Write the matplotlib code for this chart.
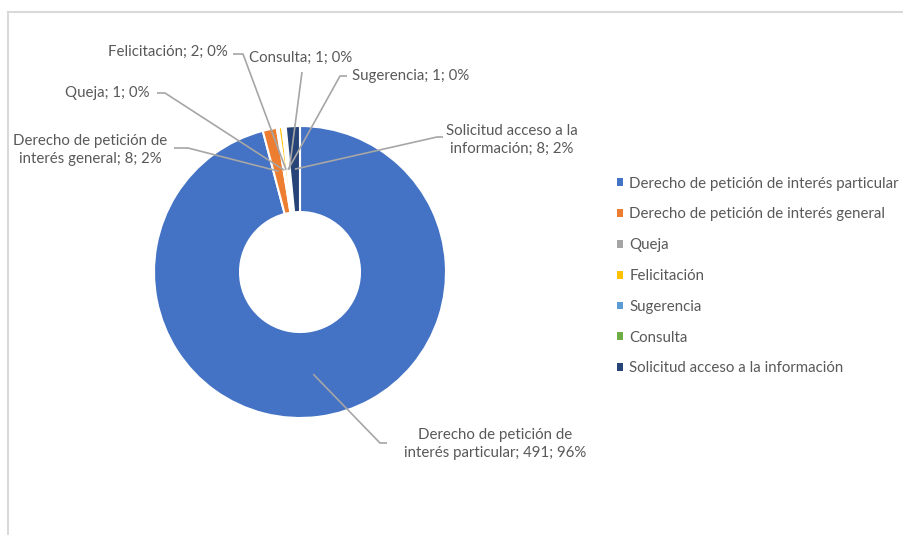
import matplotlib
matplotlib.use("Agg")
import matplotlib.pyplot as plt
import numpy as np

# datos
categorias = ["Derecho de petición de interés particular",
              "Derecho de petición de interés general",
              "Queja",
              "Felicitación",
              "Sugerencia",
              "Consulta",
              "Solicitud acceso a la información"]
valores = [491, 8, 1, 2, 1, 1, 8]
colores = ["#4472C4", "#ED7D31", "#A5A5A5", "#FFC000", "#5B9BD5", "#70AD47", "#264478"]
etiquetas = ["Derecho de petición de\ninterés particular; 491; 96%",
             "Derecho de petición de\ninterés general; 8; 2%",
             "Queja; 1; 0%",
             "Felicitación; 2; 0%",
             "Sugerencia; 1; 0%",
             "Consulta; 1; 0%",
             "Solicitud acceso a la\ninformación; 8; 2%"]

W, H = 904, 535
plt.rcParams['font.family'] = ['Lato', 'DejaVu Sans']
gris = "#595959"
linea = "#A6A6A6"
fs = 10.8

fig = plt.figure(figsize=(W / 100, H / 100), dpi=100)
ax = fig.add_axes([0, 0, 1, 1])

def py(y):
    return H - y

cx, cy = 300, py(272)
R = 146
ancho = 86

wedges, _ = ax.pie(valores, colors=colores, startangle=90, counterclock=False,
                   center=(cx, cy), radius=R,
                   wedgeprops=dict(width=ancho, edgecolor='white', linewidth=1.5))
ax.set_xlim(0, W)
ax.set_ylim(0, H)
ax.set_aspect('equal')
ax.axis('off')

# posiciones de las etiquetas: (x, y, ha, codo1, codo2)
pos = [
    (495, 444, 'center', (387, 443), (380, 443)),
    (90, 150, 'center', (174, 148), (188, 148)),
    (150, 93, 'right', (157, 93), (165, 93)),
    (228, 52, 'right', (233, 54), (243, 54)),
    (352, 76, 'left', (347, 76), (340, 76)),
    (301, 58, 'center', (302, 72), (302, 72)),
    (512, 140, 'center', (443, 137), (437, 137)),
]

rmed = R - ancho / 2
for w, txt, (tx, ty, ha, c1, c2) in zip(wedges, etiquetas, pos):
    ang = np.deg2rad((w.theta1 + w.theta2) / 2)
    px = cx + rmed * np.cos(ang)
    pyy = cy + rmed * np.sin(ang)
    ax.plot([c1[0], c2[0], px], [py(c1[1]), py(c2[1]), pyy], color=linea, lw=1.2,
            solid_capstyle='butt', zorder=3)
    ax.text(tx, py(ty), txt, ha=ha, va='center', fontsize=fs, color=gris,
            linespacing=1.3, zorder=4)

# borde del gráfico
ax.plot([8, W], [py(12), py(12)], color="#D9D9D9", lw=1.5)
ax.plot([8, 8], [py(12), 0], color="#D9D9D9", lw=1.5)

leg = ax.legend(wedges, categorias, loc='center left',
                bbox_to_anchor=(617 / W, 1 - 276 / H), frameon=False,
                borderpad=0, borderaxespad=0,
                handlelength=0.42, handleheight=0.42, handletextpad=0.4,
                labelspacing=1.12, fontsize=fs, labelcolor=gris)
for h in leg.legend_handles:
    h.set_edgecolor('none')

fig.savefig("out.png", dpi=100)
